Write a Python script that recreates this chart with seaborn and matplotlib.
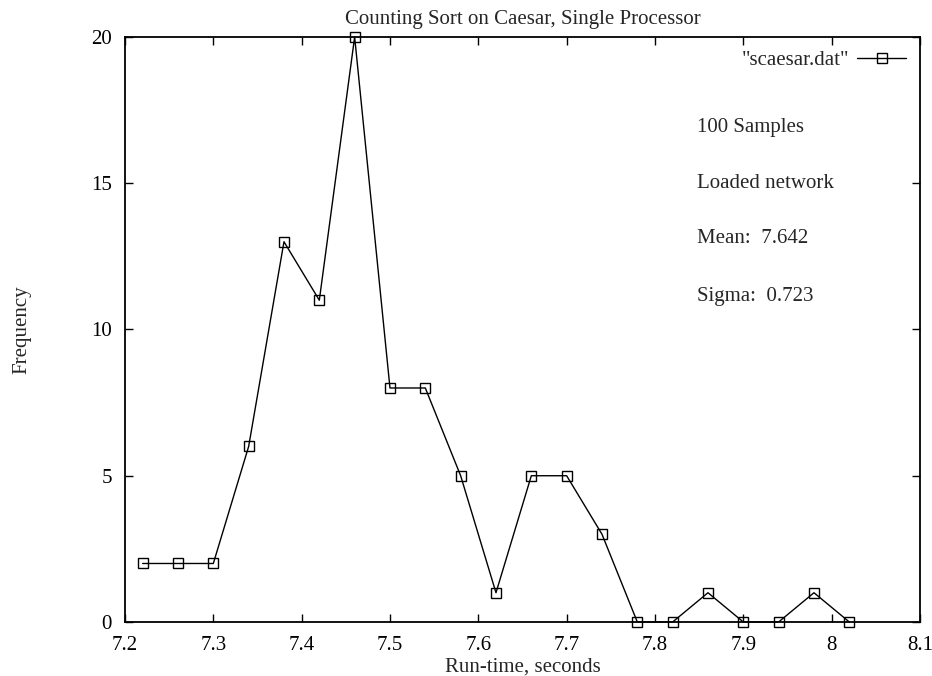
import seaborn as sns
import matplotlib.pyplot as plt
import pandas as pd

# Histogram data (bin centres, counts)
run_time = [7.22, 7.26, 7.30, 7.34, 7.38, 7.42, 7.46, 7.50, 7.54, 7.58, 7.62,
            7.66, 7.70, 7.74, 7.78, 7.82, 7.86, 7.90, 7.94, 7.98, 8.02]
frequency = [2, 2, 2, 6, 13, 11, 20, 8, 8, 5, 1,
             5, 5, 3, 0, 0, 1, 0, 0, 1, 0]
x_ticks = [7.2, 7.3, 7.4, 7.5, 7.6, 7.7, 7.8, 7.9, 8.0, 8.1]
x_tick_labels = ['7.2', '7.3', '7.4', '7.5', '7.6', '7.7', '7.8', '7.9', '8', '8.1']
y_ticks = [0, 5, 10, 15, 20]
notes = ['100 Samples', 'Loaded network', 'Mean:  7.642', 'Sigma:  0.723']

df = pd.DataFrame({'run_time': run_time, 'frequency': frequency})

sns.set_style("ticks")
plt.rcParams['font.family'] = ['Liberation Serif', 'DejaVu Serif']

fig = plt.figure(figsize=(9.32, 6.76), dpi=100)
ax = fig.add_axes([0.1341, 0.0799, 0.8530, 0.8654])

sns.lineplot(data=df, x='run_time', y='frequency', ax=ax,
             color='black', linewidth=1.0, marker='s', markersize=7.5,
             markerfacecolor='none', markeredgecolor='black', markeredgewidth=1.0,
             label='"scaesar.dat"', clip_on=False)

ax.set_xlim(7.2, 8.1)
ax.set_ylim(0, 20)
ax.set_xticks(x_ticks)
ax.set_xticklabels(x_tick_labels)
ax.set_yticks(y_ticks)
ax.tick_params(direction='in', length=6, width=1.0, top=True, right=True,
               labelsize=15, colors='black')
ax.tick_params(axis='x', pad=10)
ax.tick_params(axis='y', pad=9.5)
for s in ax.spines.values():
    s.set_linewidth(1.3)
    s.set_color('black')

ax.set_title('Counting Sort on Caesar, Single Processor', fontsize=15, pad=9.5)
ax.set_xlabel('Run-time, seconds', fontsize=15, labelpad=2)
ax.set_ylabel('Frequency', fontsize=15, labelpad=43)

# annotation block in the upper right
note_y = [0.845, 0.750, 0.655, 0.556]
for txt, yy in zip(notes, note_y):
    ax.text(0.72, yy, txt, transform=ax.transAxes, fontsize=15,
            ha='left', va='center')

ax.legend(loc='upper right', frameon=False, markerfirst=False, fontsize=15,
          handlelength=2.35, handletextpad=0.4, borderaxespad=0.45,
          borderpad=0.2)

fig.savefig('out.png', dpi=100)
